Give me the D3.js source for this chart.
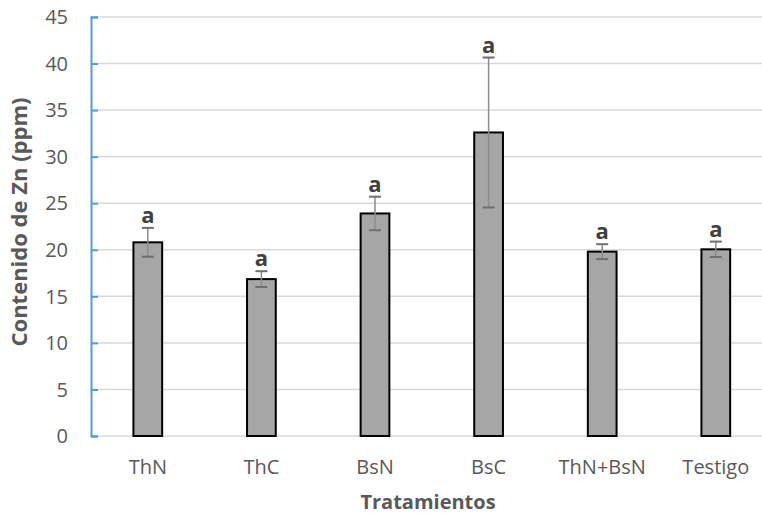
<!DOCTYPE html>
<html><head><meta charset="utf-8">
<script src="https://cdn.jsdelivr.net/npm/d3@7"></script>
<style>body{margin:0;background:#fff}svg{display:block}text{font-family:"Open Sans",sans-serif}</style>
</head><body><svg id="c" width="762" height="517"></svg>
<script>
const categories = ["ThN","ThC","BsN","BsC","ThN+BsN","Testigo"];
const means = [20.8, 16.85, 23.9, 32.6, 19.8, 20.05];
const errors = [1.55, 0.85, 1.8, 8.05, 0.8, 0.83];
const letters = ["a","a","a","a","a","a"];
const yTicks = [0,5,10,15,20,25,30,35,40,45];

const svg = d3.select("#c");
const x = d3.scaleBand().domain(categories).range([91, 772.6]).paddingInner(0.747).paddingOuter(0.3735);
const y = d3.scaleLinear().domain([0,45]).range([436,17]);

// gridlines
svg.append("g").selectAll("line").data(yTicks).join("line")
  .attr("x1",91).attr("x2",762).attr("y1",d=>y(d)).attr("y2",d=>y(d))
  .attr("stroke","#d9d9d9").attr("stroke-width",1.5);

// y axis
const ya = svg.append("g").attr("transform","translate(91,0)")
  .call(d3.axisRight(y).tickValues(yTicks).tickSize(7).tickFormat(""));
ya.select(".domain").attr("stroke","#5b9bd5").attr("stroke-width",2);
ya.selectAll(".tick line").attr("stroke","#5b9bd5").attr("stroke-width",2);
svg.append("g").selectAll("text").data(yTicks).join("text")
  .attr("x",68).attr("y",d=>y(d)).attr("dy","0.36em").attr("text-anchor","end")
  .attr("fill","#595959").style("font-size","20px").text(d=>d);

// bars
svg.append("g").selectAll("rect").data(categories).join("rect")
  .attr("x",d=>x(d)).attr("width",x.bandwidth())
  .attr("y",(d,i)=>y(means[i])).attr("height",(d,i)=>y(0)-y(means[i]))
  .attr("fill","#a6a6a6").attr("stroke","#000").attr("stroke-width",2);

// error bars
const eb = svg.append("g");
categories.forEach((c,i)=>{
  const cx = x(c)+x.bandwidth()/2;
  const t = y(means[i]+errors[i]), b = y(means[i]-errors[i]);
  eb.append("line").attr("x1",cx).attr("x2",cx).attr("y1",t).attr("y2",b).attr("stroke","#8c8c8c").attr("stroke-width",1.5);
  [t,b].forEach(v=>eb.append("line").attr("x1",cx-6).attr("x2",cx+6).attr("y1",v).attr("y2",v).attr("stroke","#6f6f6f").attr("stroke-width",2));
  svg.append("text").attr("x",cx).attr("y",t-5).attr("text-anchor","middle")
    .attr("fill","#404040").style("font-size","22px").style("font-weight","bold").text(letters[i]);
});

// x labels
svg.append("g").selectAll("text").data(categories).join("text")
  .attr("x",d=>x(d)+x.bandwidth()/2).attr("y",474).attr("text-anchor","middle")
  .attr("fill","#595959").style("font-size","20px").text(d=>d);

// titles
svg.append("text").attr("x",428).attr("y",509).attr("text-anchor","middle")
  .attr("fill","#595959").style("font-size","20px").style("font-weight","bold").text("Tratamientos");
svg.append("text").attr("transform","translate(27,222) rotate(-90)").attr("text-anchor","middle")
  .attr("fill","#595959").style("font-size","22px").style("font-weight","bold").text("Contenido de Zn (ppm)");
</script></body></html>
